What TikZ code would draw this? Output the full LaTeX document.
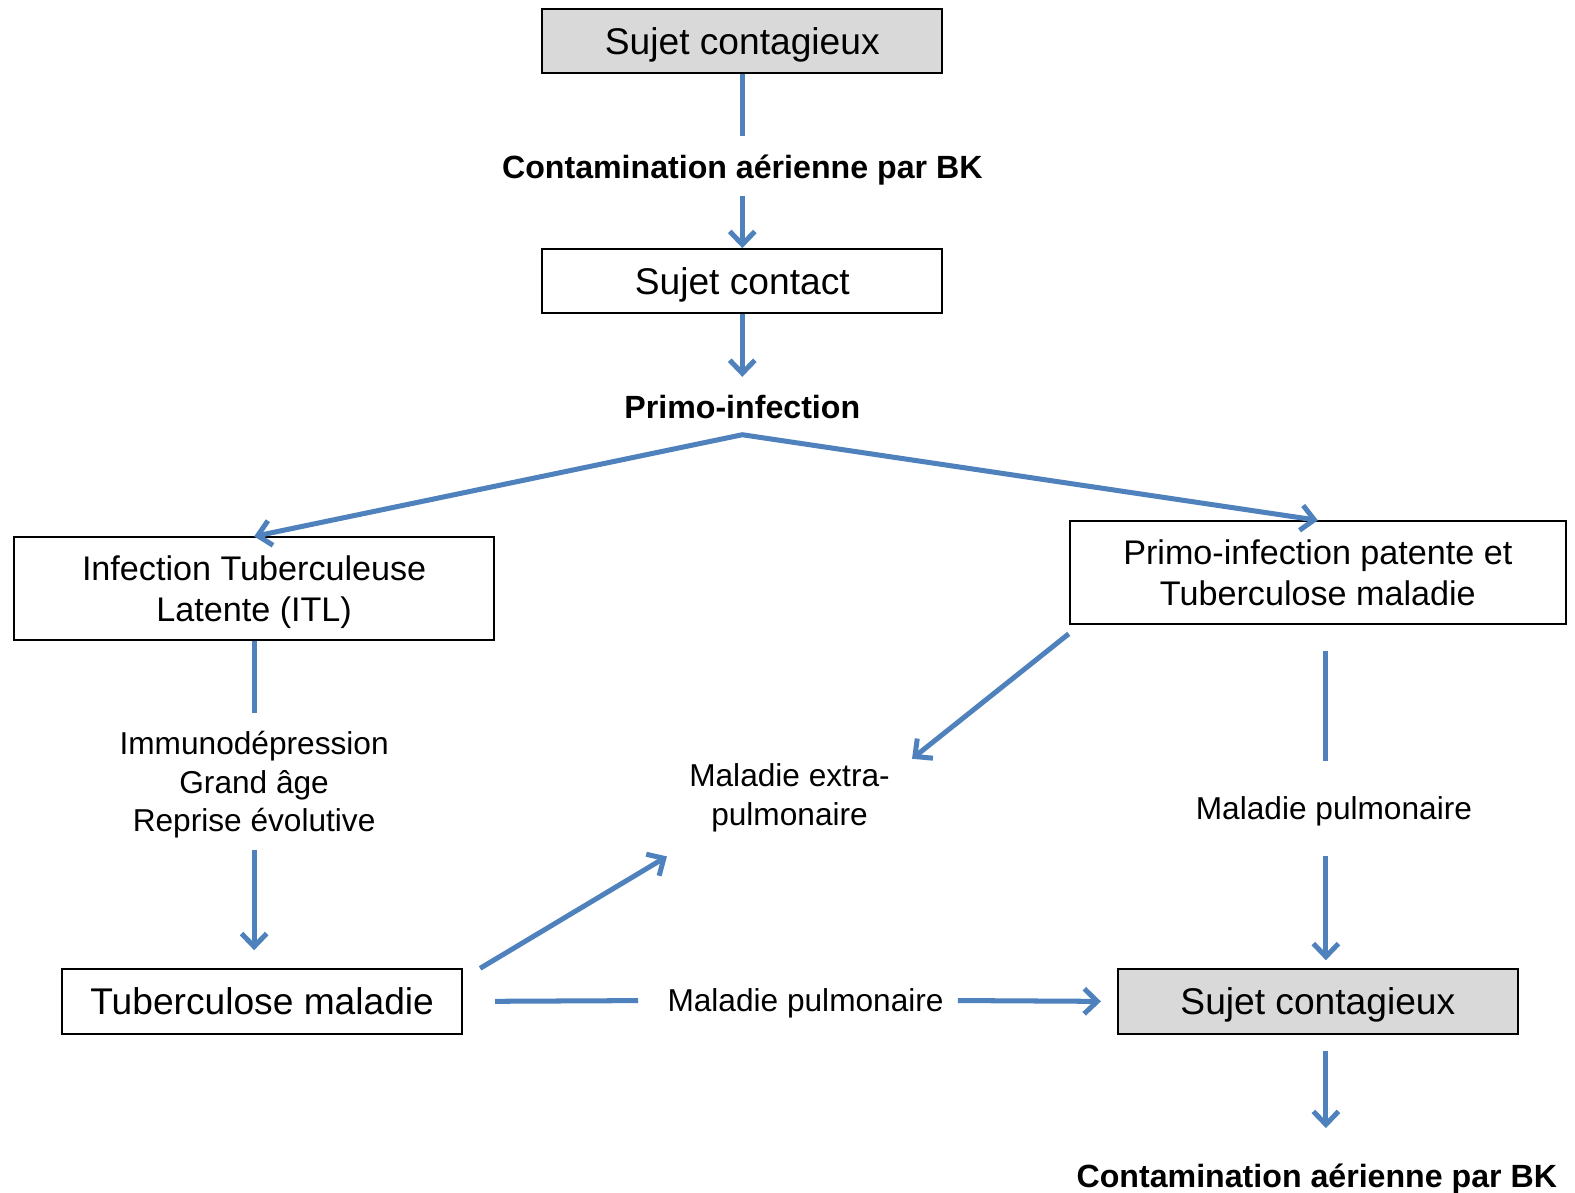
\documentclass[tikz,border=0pt]{standalone}
\usepackage{fontspec}
\setmainfont{Liberation Sans}
\usetikzlibrary{positioning,arrows.meta,calc}
\definecolor{flowblue}{RGB}{79,129,189}
\definecolor{boxgray}{RGB}{217,217,217}

\begin{document}
\begin{tikzpicture}[x=1pt,y=-1pt,
	box/.style={draw=black,line width=2pt,minimum width=398pt,minimum height=64pt,font=\fontsize{37}{44}\selectfont},
	graybox/.style={box,fill=boxgray},
	twobox/.style={box,minimum height=102pt,align=center,font=\fontsize{34}{41}\selectfont},
	lbl/.style={align=center,font=\fontsize{31.5}{38}\selectfont},
	blbl/.style={font=\bfseries\fontsize{32}{38}\selectfont},
	link/.style={flowblue,line width=5pt},
	arr/.style={link,-{Straight Barb[length=13pt,width=25pt]}}]
			\tikzstyle{every node}+=[inner sep=0pt,text depth=0pt]
			\useasboundingbox (0,0) rectangle (1568,1187);
			\node [graybox] (src) at (739,41) {Sujet contagieux};
			\node [blbl] (air1) at (739,166) {Contamination aérienne par BK};
			\node [box] (contact) at (739,280) {Sujet contact};
			\node [blbl] (primo) at (739,405) {Primo-infection};
			\node [twobox,minimum width=478pt] (itl) at (253,586) {Infection Tuberculeuse\\Latente (ITL)};
			\node [twobox,minimum width=494pt] (patent) at (1312,570) {Primo-infection patente et\\Tuberculose maladie};
			\node [lbl] (risk) at (253,778) {Immunodépression\\Grand âge\\Reprise évolutive};
			\node [lbl] (extra) at (786,791) {Maladie extra-\\pulmonaire};
			\node [lbl] (pulmR) at (1328,804) {Maladie pulmonaire};
			\node [box] (tbm) at (261,997) {Tuberculose maladie};
			\node [lbl] (pulmB) at (802,996) {Maladie pulmonaire};
			\node [graybox] (contag) at (1312,997) {Sujet contagieux};
			\node [blbl] (air2) at (1311,1170) {Contamination aérienne par BK};
			\coordinate (apex) at ($(primo.south)+(0,16)$);
			\coordinate (rx) at (1320,0);
			\draw [link,shorten >=19pt] (src.south) -- (air1.north);
			\draw [arr,shorten <=17pt] (air1.south) -- (contact.north);
			\draw [arr,shorten >=18pt] (contact.south) -- (primo.north);
			\draw [link,line join=miter,{Straight Barb[length=13pt,width=25pt]}-{Straight Barb[length=13pt,width=25pt]}] (itl.north) -- (apex) -- (patent.north);
			\draw [link,shorten >=18pt] (itl.south) -- (risk.north);
			\draw [arr,shorten <=18pt,shorten >=18pt] (risk.south) -- (tbm.north -| risk.south);
			\draw [arr] ($(patent.south west)+(0,9)$) -- ($(extra.north east)+(22,-5)$);
			\draw [arr] ($(tbm.north east)+(17,0)$) -- ($(extra.south west)+(-22,31)$);
			\draw [link,shorten <=26pt,shorten >=35pt] (patent.south -| rx) -- (pulmR.north -| rx);
			\draw [arr,shorten <=37pt,shorten >=8pt] (pulmR.south -| rx) -- (contag.north -| rx);
			\draw [link,shorten <=32pt,shorten >=29pt] (tbm.east) -- (pulmB.west);
			\draw [arr,shorten <=14pt,shorten >=16pt] (pulmB.east) -- (contag.west);
			\draw [arr,shorten <=16pt,shorten >=35pt] (contag.south -| rx) -- (air2.north -| rx);
\end{tikzpicture}
\end{document}
